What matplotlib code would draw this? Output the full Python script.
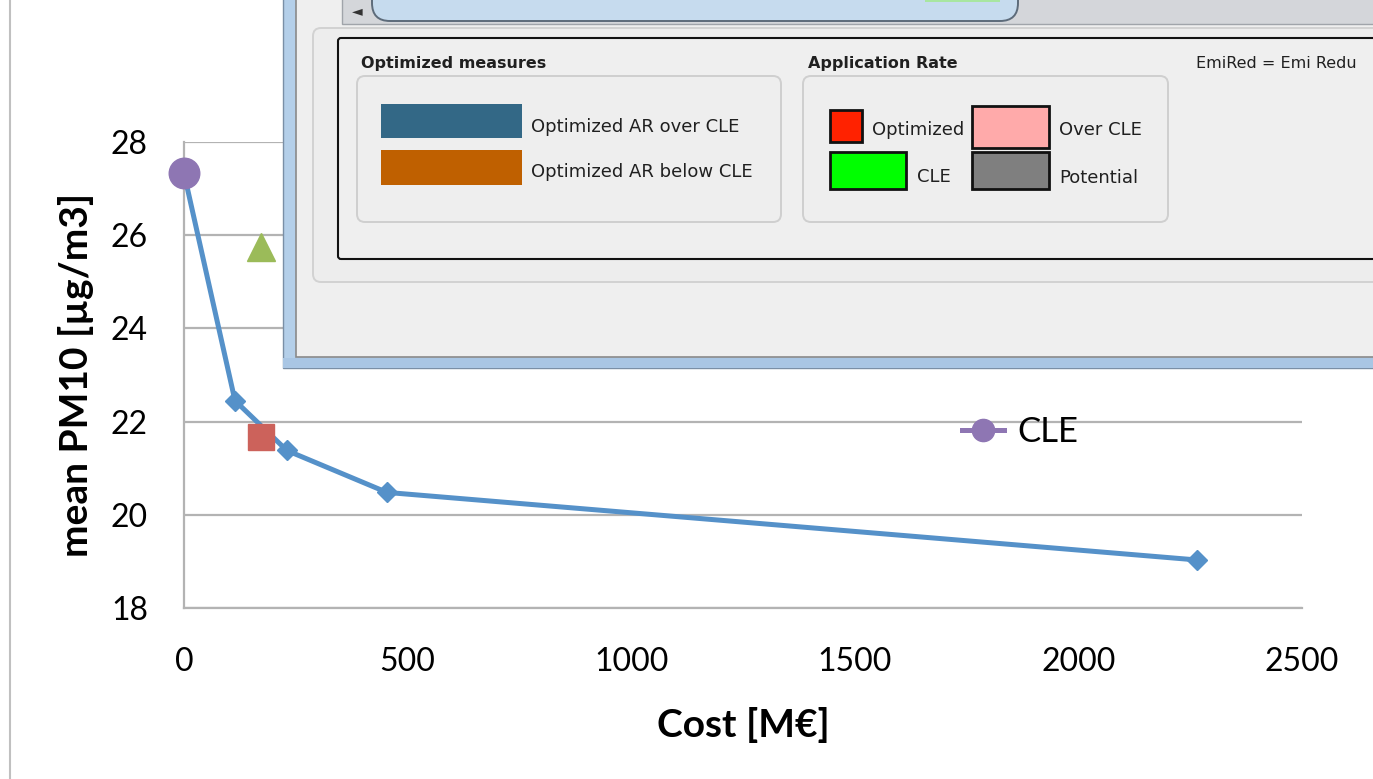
import numpy as np
import matplotlib.pyplot as plt
from matplotlib.patches import Rectangle, FancyBboxPatch
from matplotlib.lines import Line2D

# pareto curve: cost vs mean PM10
cost_opt = [0, 114, 230, 454, 2266]
pm10_opt = [27.33, 22.45, 21.38, 20.48, 19.03]

# single scenarios
cost_cle = [0]
pm10_cle = [27.33]
cost_tri = [172]
pm10_tri = [25.75]
cost_sq = [172]
pm10_sq = [21.68]

xticks = [0, 500, 1000, 1500, 2000, 2500]
yticks = [18, 20, 22, 24, 26, 28]

W, H = 1373, 779
fig = plt.figure(figsize=(W / 100, H / 100), dpi=100)
plt.rcParams['font.family'] = ['Lato', 'DejaVu Sans']

def fx(px):
    return px / W

def fy(py):
    return 1 - py / H

# chart area
ax = fig.add_axes([fx(184), fy(608), fx(1302) - fx(184), fy(142) - fy(608)])
ax.set_xlim(0, 2500)
ax.set_ylim(18, 28)
ax.set_xticks(xticks)
ax.set_yticks(yticks)
ax.tick_params(labelsize=23, length=0)
ax.tick_params(axis='x', pad=28)
ax.tick_params(axis='y', pad=26)
ax.yaxis.grid(True, color='#b3b3b3', lw=1.6)
ax.set_axisbelow(True)
for s in ['top', 'right']:
    ax.spines[s].set_visible(False)
for s in ['left', 'bottom']:
    ax.spines[s].set_color('#b3b3b3')
    ax.spines[s].set_linewidth(1.6)

ax.plot(cost_opt, pm10_opt, color='#5591c9', lw=3.6, marker='D', ms=10, clip_on=False, zorder=3)
ax.plot(cost_tri, pm10_tri, ls='none', marker='^', ms=20, color='#9bbb59', zorder=4)
ax.plot(cost_sq, pm10_sq, ls='none', marker='s', ms=19, color='#cc625b', zorder=4)
cle, = ax.plot(cost_cle, pm10_cle, ls='none', marker='o', ms=22, color='#8e76b3', clip_on=False, zorder=5)

ax.set_xlabel('Cost [M€]', fontsize=28, fontweight='bold', labelpad=22)
ax.set_ylabel('mean PM10 [µg/m3]', fontsize=28, fontweight='bold', labelpad=12)

leg_handle = Line2D([], [], color='#8e76b3', lw=3.6, marker='o', ms=16)
fig.legend(handles=[leg_handle], labels=['CLE'], loc='center left',
           bbox_to_anchor=(fx(962), fy(432)), frameon=False, fontsize=25,
           handlelength=1.2, handletextpad=0.4, borderpad=0, borderaxespad=0)

# chart frame edge on the left
fig.add_artist(Line2D([fx(10), fx(10)], [0, 1], color='#c0c0c0', lw=1.5))

# application window on top, drawn in pixel coordinates
g = fig.add_axes([0, 0, 1, 1], zorder=10)
g.set_xlim(0, W)
g.set_ylim(H, 0)
g.axis('off')
g.patch.set_alpha(0)

# frame and client area
g.add_patch(Rectangle((283, -5), W - 283 + 5, 373, fc='#b4cfe9', ec='#7a8fa6', lw=1))
g.add_patch(Rectangle((283, 358), W - 283, 10, fc='#a9c6e4', ec='none'))
g.add_patch(Rectangle((296, -5), W - 296 + 5, 362, fc='#efefef', ec='#8a8a8a', lw=1.2))

# horizontal scroll bar
g.add_patch(Rectangle((342, -5), W - 342 + 5, 29, fc='#d4d6da', ec='#a0a4aa', lw=1))
g.text(357, 11, '◄', fontsize=10, color='#333333', ha='center', va='center', family='DejaVu Sans')
g.add_patch(FancyBboxPatch((372, -20), 646, 41, boxstyle='round,pad=0,rounding_size=18',
                           fc='#c6dbee', ec='#5d6b7a', lw=1.4))
g.add_patch(Rectangle((925, -1), 75, 3, fc='#a8e6a0', ec='none'))

# outer panel and legend box
g.add_patch(FancyBboxPatch((313, 28), W - 313 + 20, 254, boxstyle='round,pad=0,rounding_size=8',
                           fc='#ededed', ec='#d2d2d2', lw=1.4))
g.add_patch(FancyBboxPatch((338, 38), W - 338 + 20, 221, boxstyle='round,pad=0,rounding_size=3',
                           fc='#efefef', ec='#111111', lw=1.5))

gui_font = dict(family='DejaVu Sans', color='#202020', va='center')
g.text(361, 63, 'Optimized measures', fontsize=11.5, fontweight='bold', **gui_font)
g.text(808, 63, 'Application Rate', fontsize=11.5, fontweight='bold', **gui_font)
g.text(1196, 63, 'EmiRed = Emi Redu', fontsize=11.5, clip_on=True, **gui_font)

for x0, x1 in [(357, 781), (803, 1168)]:
    g.add_patch(FancyBboxPatch((x0, 76), x1 - x0, 146, boxstyle='round,pad=0,rounding_size=8',
                               fc='#eeeeee', ec='#cfcfcf', lw=1.4))

# measure swatches
g.add_patch(Rectangle((381, 104), 141, 34, fc='#336886', ec='none'))
g.add_patch(Rectangle((381, 150), 141, 35, fc='#bf6000', ec='none'))
g.text(531, 127, 'Optimized AR over CLE', fontsize=13, **gui_font)
g.text(531, 172, 'Optimized AR below CLE', fontsize=13, **gui_font)

# application rate swatches
swatches = [((830, 110), 32, 32, '#ff2200', 'Optimized', (872, 130)),
            ((972, 106), 77, 42, '#ffaaaa', 'Over CLE', (1059, 130)),
            ((830, 152), 76, 37, '#00ff00', 'CLE', (917, 177)),
            ((972, 152), 77, 37, '#7f7f7f', 'Potential', (1059, 178))]
for xy, w, h, c, lab, txy in swatches:
    g.add_patch(Rectangle(xy, w, h, fc=c, ec='#111111', lw=2))
    g.text(txy[0], txy[1], lab, fontsize=13, **gui_font)

fig.savefig('out.png', dpi=100)
